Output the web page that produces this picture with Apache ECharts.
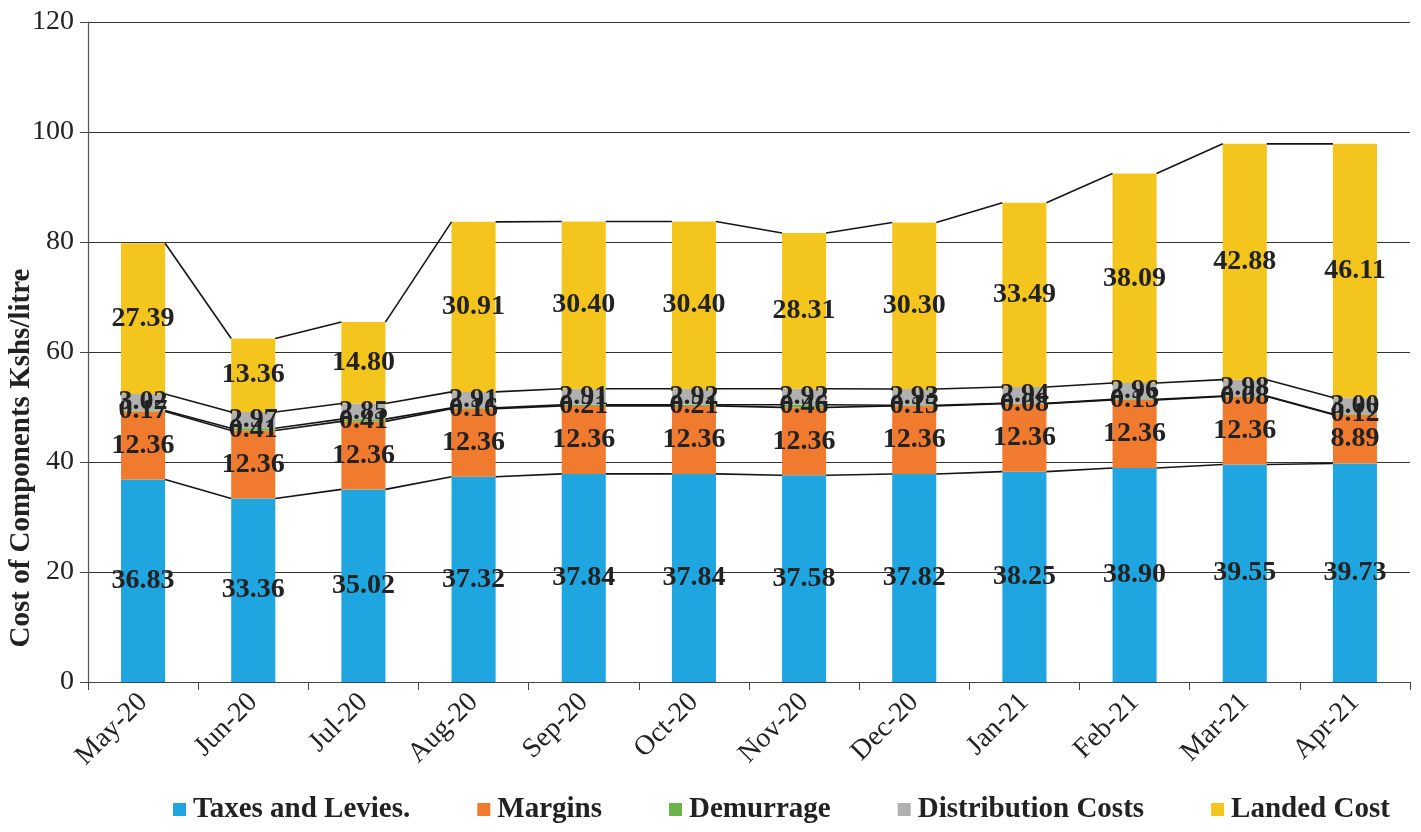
<!DOCTYPE html>
<html>
<head>
<meta charset="utf-8">
<script src="https://cdn.jsdelivr.net/npm/echarts@6/dist/echarts.min.js"></script>
<style>
html,body{margin:0;padding:0;background:#fff;}
#chart{width:1421px;height:832px;}
</style>
</head>
<body>
<div id="chart"></div>
<script>
const categories = ['May-20','Jun-20','Jul-20','Aug-20','Sep-20','Oct-20','Nov-20','Dec-20','Jan-21','Feb-21','Mar-21','Apr-21'];
const taxes = [36.83,33.36,35.02,37.32,37.84,37.84,37.58,37.82,38.25,38.90,39.55,39.73];
const margins = [12.36,12.36,12.36,12.36,12.36,12.36,12.36,12.36,12.36,12.36,12.36,8.89];
const demurrage = [0.17,0.41,0.41,0.16,0.21,0.21,0.46,0.15,0.08,0.13,0.08,0.12];
const distribution = [3.02,2.97,2.85,2.91,2.91,2.92,2.92,2.93,2.94,2.96,2.98,3.00];
const landed = [27.39,13.36,14.80,30.91,30.40,30.40,28.31,30.30,33.49,38.09,42.88,46.11];
const yTicks = [0,20,40,60,80,100,120];

const seriesDefs = [
  {name:'Taxes and Levies.', data:taxes, color:'#1FA6E0'},
  {name:'Margins', data:margins, color:'#F07A2E'},
  {name:'Demurrage', data:demurrage, color:'#6BB44B'},
  {name:'Distribution Costs', data:distribution, color:'#B0B0B0'},
  {name:'Landed Cost', data:landed, color:'#F4C51C'}
];

const FONT = '"Liberation Serif", "DejaVu Serif", serif';

// cumulative tops per level, built from the arrays
const cum = seriesDefs.map((s, k) => categories.map((c, i) => {
  let t = 0; for (let j = 0; j <= k; j++) t += seriesDefs[j].data[i]; return t;
}));
const lineData = [];
for (let i = 0; i < categories.length - 1; i++) {
  const row = [i];
  for (let k = 0; k < 5; k++) row.push(cum[k][i]);
  for (let k = 0; k < 5; k++) row.push(cum[k][i+1]);
  lineData.push(row);
}

const chart = echarts.init(document.getElementById('chart'));
const barSeries = seriesDefs.map(s => ({
  name: s.name,
  type: 'bar',
  stack: 'total',
  barWidth: '40%',
  data: s.data,
  itemStyle: {color: s.color},
  label: {
    show: true,
    position: 'inside',
    formatter: p => p.value.toFixed(2),
    fontFamily: FONT,
    fontWeight: 'bold',
    fontSize: 28,
    color: '#222'
  }
}));

chart.setOption({
  animation: false,
  backgroundColor: '#fff',
  grid: {left: 88, right: 11, top: 22, bottom: 150},
  legend: {
    top: 790,
    left: 168,
    icon: 'rect',
    itemWidth: 13,
    itemHeight: 13,
    itemGap: 67,
    data: seriesDefs.map(s => s.name),
    textStyle: {fontFamily: FONT, fontWeight: 'bold', fontSize: 29, color: '#222', padding: [0, 0, 0, 2]}
  },
  graphic: [{
    type: 'text',
    x: 22,
    y: 458,
    rotation: Math.PI / 2,
    style: {
      text: 'Cost of Components Kshs/litre',
      font: 'bold 29px ' + FONT,
      fill: '#222',
      align: 'center',
      verticalAlign: 'middle'
    }
  }],
  xAxis: {
    type: 'category',
    data: categories,
    axisLine: {lineStyle: {color: '#444', width: 1.2}},
    axisTick: {show: true, length: 8, lineStyle: {color: '#444'}},
    axisLabel: {rotate: 45, fontFamily: FONT, fontSize: 28, color: '#222', margin: 16}
  },
  yAxis: {
    type: 'value',
    min: yTicks[0],
    max: yTicks[yTicks.length-1],
    interval: 20,
    axisLine: {show: true, lineStyle: {color: '#555', width: 1.2}},
    axisTick: {show: true, length: 8, lineStyle: {color: '#444'}},
    axisLabel: {fontFamily: FONT, fontSize: 28, color: '#222', margin: 14},
    splitLine: {lineStyle: {color: '#333', width: 1.2}}
  },
  series: barSeries.concat([{
    type: 'custom',
    name: 'series lines',
    z: 5,
    silent: true,
    data: lineData,
    encode: {x: 0, y: 1},
    renderItem: function(params, api) {
      const i = api.value(0);
      const half = api.size([1, 0])[0] * 0.4 / 2;
      const children = [];
      for (let k = 0; k < 5; k++) {
        const a = api.coord([i, api.value(1 + k)]);
        const b = api.coord([i + 1, api.value(6 + k)]);
        children.push({type: 'line', shape: {x1: a[0] + half, y1: a[1], x2: b[0] - half, y2: b[1]},
          style: {stroke: '#151515', lineWidth: 1.6}});
      }
      return {type: 'group', children};
    }
  }])
});
</script>
</body>
</html>
